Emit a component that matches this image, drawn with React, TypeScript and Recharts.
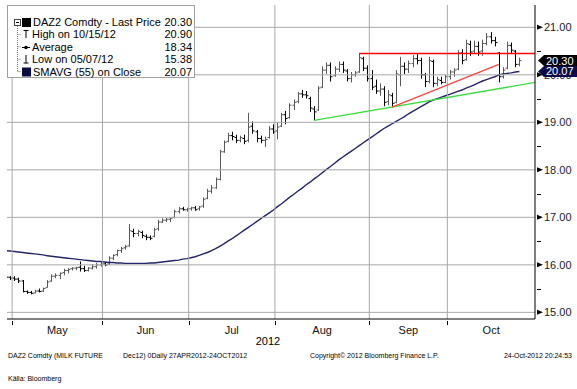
import React from 'react';
import { ComposedChart, Bar, Line, XAxis, YAxis, ReferenceLine } from 'recharts';

// DAZ2 Comdty daily bars, 27 Apr 2012 .. 24 Oct 2012 (trading-day index 0..125)
const opens = [
  15.78, 15.74, 15.72, 15.7, 15.66, 15.44, 15.42, 15.41, 15.45, 15.45,
  15.52, 15.66, 15.76, 15.78, 15.84, 15.88, 15.92, 15.93, 15.95, 15.92,
  15.88, 15.93, 15.96, 16.0, 16.02, 16.02, 16.14, 16.22, 16.3, 16.36,
  16.4, 16.7, 16.66, 16.68, 16.6, 16.58, 16.6, 16.76, 16.9, 16.94,
  16.96, 17.0, 17.12, 17.18, 17.16, 17.18, 17.2, 17.18, 17.24, 17.4,
  17.55, 17.62, 17.8, 18.38, 18.6, 18.72, 18.68, 18.62, 18.66, 18.62,
  18.92, 18.8, 18.66, 18.62, 18.68, 18.86, 18.82, 18.92, 19.16, 19.1,
  19.36, 19.44, 19.6, 19.58, 19.5, 19.28, 19.26, 19.74, 20.1, 20.2,
  19.98, 20.12, 20.22, 20.08, 19.92, 20.0, 20.06, 20.34, 20.14, 19.92,
  19.76, 19.66, 19.7, 19.44, 19.56, 19.42, 20.0, 20.18, 20.12, 20.24,
  20.34, 20.3, 20.0, 19.86, 20.28, 19.82, 19.88, 19.84, 19.96, 20.06,
  20.12, 20.46, 20.32, 20.64, 20.5, 20.6, 20.5, 20.66, 20.8, 20.72,
  20.46, 19.96, 20.14, 20.62, 20.5, 20.22,
];
const highs = [
  15.8, 15.76, 15.76, 15.73, 15.68, 15.46, 15.45, 15.47, 15.5, 15.52,
  15.68, 15.8, 15.82, 15.84, 15.92, 15.93, 15.95, 15.96, 16.07, 15.98,
  15.95, 16.02, 16.04, 16.08, 16.06, 16.18, 16.22, 16.32, 16.38, 16.42,
  16.86, 16.76, 16.74, 16.72, 16.64, 16.62, 16.78, 16.95, 16.98, 16.98,
  17.0, 17.16, 17.22, 17.22, 17.2, 17.22, 17.24, 17.24, 17.42, 17.6,
  17.68, 17.84, 18.42, 18.62, 18.78, 18.8, 18.74, 18.72, 18.74, 19.2,
  19.02, 18.84, 18.72, 18.7, 18.92, 18.96, 19.0, 19.2, 19.24, 19.4,
  19.48, 19.64, 19.68, 19.66, 19.54, 19.34, 19.76, 20.18, 20.26, 20.26,
  20.18, 20.28, 20.28, 20.12, 20.06, 20.08, 20.46, 20.38, 20.2, 20.1,
  19.9, 19.82, 19.76, 19.68, 19.62, 20.1, 20.38, 20.26, 20.3, 20.42,
  20.44, 20.36, 20.04, 20.38, 20.32, 19.96, 19.96, 20.0, 20.1, 20.14,
  20.52, 20.54, 20.74, 20.72, 20.72, 20.7, 20.74, 20.88, 20.9, 20.8,
  20.48, 20.16, 20.7, 20.68, 20.52, 20.36,
];
const lows = [
  15.7, 15.68, 15.66, 15.62, 15.42, 15.39, 15.38, 15.4, 15.42, 15.43,
  15.52, 15.64, 15.72, 15.7, 15.78, 15.82, 15.88, 15.89, 15.86, 15.85,
  15.86, 15.9, 15.92, 15.96, 15.97, 16.0, 16.1, 16.18, 16.25, 16.32,
  16.38, 16.58, 16.6, 16.56, 16.52, 16.52, 16.58, 16.72, 16.88, 16.9,
  16.9, 16.98, 17.08, 17.14, 17.12, 17.14, 17.14, 17.14, 17.2, 17.38,
  17.5, 17.6, 17.78, 18.36, 18.58, 18.62, 18.56, 18.58, 18.54, 18.58,
  18.76, 18.58, 18.56, 18.48, 18.66, 18.76, 18.64, 18.9, 18.96, 19.08,
  19.26, 19.4, 19.52, 19.5, 19.22, 19.04, 19.24, 19.72, 20.02, 19.86,
  19.96, 20.06, 20.04, 19.86, 19.84, 19.96, 20.04, 20.08, 19.86, 19.68,
  19.6, 19.56, 19.34, 19.36, 19.32, 19.4, 19.76, 20.02, 20.04, 20.16,
  20.22, 19.92, 19.74, 19.82, 19.74, 19.76, 19.8, 19.82, 19.9, 19.96,
  20.1, 20.22, 20.3, 20.4, 20.44, 20.4, 20.4, 20.62, 20.66, 20.6,
  19.84, 19.92, 20.12, 20.46, 20.16, 20.18,
];
const closes = [
  15.74, 15.72, 15.7, 15.66, 15.44, 15.42, 15.4, 15.45, 15.44, 15.5,
  15.64, 15.76, 15.78, 15.82, 15.88, 15.9, 15.93, 15.94, 15.92, 15.88,
  15.93, 15.96, 16.0, 16.02, 16.0, 16.14, 16.2, 16.3, 16.34, 16.38,
  16.72, 16.66, 16.7, 16.62, 16.58, 16.56, 16.74, 16.9, 16.94, 16.96,
  16.98, 17.12, 17.18, 17.16, 17.18, 17.2, 17.16, 17.22, 17.38, 17.55,
  17.62, 17.8, 18.38, 18.58, 18.72, 18.7, 18.62, 18.68, 18.6, 18.9,
  18.82, 18.66, 18.62, 18.64, 18.86, 18.8, 18.9, 19.16, 19.08, 19.36,
  19.42, 19.6, 19.58, 19.56, 19.3, 19.22, 19.72, 20.1, 20.2, 19.96,
  20.12, 20.22, 20.1, 19.92, 20.0, 20.04, 20.36, 20.14, 19.92, 19.74,
  19.66, 19.7, 19.42, 19.58, 19.4, 20.02, 20.18, 20.12, 20.24, 20.34,
  20.3, 20.0, 19.86, 20.3, 19.82, 19.9, 19.84, 19.96, 20.06, 20.1,
  20.46, 20.3, 20.66, 20.48, 20.6, 20.48, 20.66, 20.8, 20.72, 20.68,
  19.96, 20.1, 20.62, 20.52, 20.22, 20.3,
];
// SMAVG (55) on Close
const sma = [
  16.3, 16.29, 16.28, 16.27, 16.26, 16.25, 16.24, 16.23, 16.22, 16.21,
  16.19, 16.18, 16.17, 16.16, 16.15, 16.14, 16.13, 16.12, 16.11, 16.1,
  16.09, 16.08, 16.07, 16.07, 16.06, 16.05, 16.05, 16.04, 16.04, 16.03,
  16.03, 16.03, 16.03, 16.03, 16.03, 16.04, 16.04, 16.05, 16.06, 16.07,
  16.08, 16.09, 16.1, 16.12, 16.13, 16.15, 16.17, 16.2, 16.23, 16.26,
  16.3, 16.34, 16.39, 16.44, 16.5, 16.55, 16.61, 16.67, 16.73, 16.79,
  16.85, 16.91, 16.97, 17.03, 17.09, 17.15, 17.22, 17.28, 17.35, 17.42,
  17.48, 17.55, 17.61, 17.68, 17.74, 17.81, 17.87, 17.94, 18.01, 18.07,
  18.14, 18.21, 18.27, 18.33, 18.39, 18.45, 18.51, 18.57, 18.63, 18.69,
  18.75, 18.81, 18.87, 18.92, 18.97, 19.02, 19.07, 19.12, 19.18, 19.23,
  19.28, 19.33, 19.38, 19.43, 19.47, 19.5, 19.53, 19.56, 19.59, 19.62,
  19.65, 19.68, 19.72, 19.75, 19.79, 19.83, 19.87, 19.9, 19.93, 19.96,
  20.0, 20.02, 20.03, 20.04, 20.06, 20.07,
];

const monthNames = ['May', 'Jun', 'Jul', 'Aug', 'Sep', 'Oct'];
const monthFirstDay = [2, 24, 45, 66, 89, 108];
const priceTicks = [15, 16, 17, 18, 19, 20, 21];
const minorTicks = [15.5, 16.5, 17.5, 18.5, 19.5, 20.5];
const tagValues = [20.3, 20.07];
const tagColors = ['#000000', '#0b0b48'];

// hand-drawn trend lines: [day, price]
const resistance = [[86, 20.45], [128.8, 20.45]];
const redTrend = [[94, 19.32], [120, 20.22]];
const greenTrend = [[75, 19.04], [128.8, 19.84]];

const legendLabels = ['DAZ2 Comdty - Last Price', 'High on 10/15/12', 'Average', 'Low on 05/07/12', 'SMAVG (55) on Close'];
const legendValues = ['20.30', '20.90', '18.34', '15.38', '20.07'];

const X_DOMAIN: [number, number] = [0.2, 128.8];
const Y_DOMAIN: [number, number] = [14.86, 21.47];
const FONT = "'Liberation Sans', Arial, sans-serif";
const MARGIN = { top: 5, right: 0, bottom: 52, left: 7 };
const W = 577;
const H = 389;
const Y_AXIS_W = 42;
const X_AXIS_H = 18;

const rows = closes.map((c, i) => ({ day: i, open: opens[i], high: highs[i], low: lows[i], close: c, sma: sma[i] }));
const monthEdges = monthFirstDay.map((d) => d - 0.55);
const monthMids = monthEdges.map((e, i) => (e + (monthEdges[i + 1] ?? X_DOMAIN[1])) / 2);

function OhlcBar(props: any) {
  const { x, y, width, height, payload } = props;
  if (!payload || x == null) return null;
  const top = Math.min(y, y + height);
  const bot = Math.max(y, y + height);
  const span = payload.high - payload.low || 1;
  const py = (v: number) => top + ((payload.high - v) / span) * (bot - top);
  const cx = Math.round(x + width / 2) + 0.5;
  const color = payload.close > payload.open ? '#5a5a5a' : '#000';
  return (
    <g stroke={color} strokeWidth={1}>
      <line x1={cx} x2={cx} y1={top} y2={bot} />
      <line x1={cx - 2} x2={cx} y1={py(payload.open)} y2={py(payload.open)} />
      <line x1={cx} x2={cx + 2} y1={py(payload.close)} y2={py(payload.close)} />
    </g>
  );
}

function MonthTick({ x, y, payload }: any) {
  const k = monthMids.indexOf(payload.value);
  if (k >= 0) {
    return (
      <text x={x} y={y + 13} textAnchor="middle" fontSize={11} fill="#111">
        {monthNames[k]}
      </text>
    );
  }
  const gx = Math.round(x) + 0.5;
  return <path d={`M${gx} ${y} V${y + 4}`} stroke="#000" strokeWidth={1} />;
}

function PriceTick({ x, y, payload }: any) {
  const v = payload.value;
  const t = tagValues.indexOf(v);
  if (t >= 0) {
    return (
      <g>
        <path d={`M${x + 1} ${y} L${x + 7} ${y - 5.5} L${x + 42} ${y - 5.5} L${x + 42} ${y + 5.5} L${x + 7} ${y + 5.5} Z`} fill={tagColors[t]} />
        <text x={x + 9} y={y} dy="0.36em" fontSize={11} fill="#fff">
          {v.toFixed(2)}
        </text>
      </g>
    );
  }
  if (minorTicks.includes(v)) return <path d={`M${x} ${Math.round(y) + 0.5} h4`} stroke="#000" strokeWidth={1} />;
  return (
    <g>
      <path d={`M${x} ${y - 2.5} L${x + 6} ${y} L${x} ${y + 2.5} Z`} fill="#000" />
      <text x={x + 7} y={y} dy="0.36em" fontSize={11} fill="#1a1a2a">
        {v.toFixed(2)}
      </text>
    </g>
  );
}

const seg = (p: number[][]) => p.map(([x, y]) => ({ x, y }));

function Legend() {
  const rowTop = (i: number) => 10 + i * 12.4;
  return (
    <div style={{ position: 'absolute', left: 7, top: 5, width: 188, height: 73, background: '#fff', border: '1px solid #a0a0a0', boxSizing: 'border-box', fontSize: 11, color: '#000' }}>
      <svg width={186} height={71} style={{ position: 'absolute', left: 0, top: 0 }}>
        <g stroke="#777" strokeDasharray="1 1">
          <line x1={9.5} x2={9.5} y1={20} y2={66} />
          {[1, 2, 3, 4].map((i) => (
            <line key={i} x1={9.5} x2={13} y1={rowTop(i) + 6} y2={rowTop(i) + 6} />
          ))}
        </g>
        <rect x={6.5} y={13.5} width={6} height={6} fill="#fff" stroke="#444" />
        <line x1={8} x2={11} y1={16.5} y2={16.5} stroke="#000" />
        <rect x={14} y={12} width={9} height={9} fill="#000" />
        <g stroke="#000">
          <line x1={15.5} x2={20.5} y1={24.5} y2={24.5} />
          <line x1={18} x2={18} y1={24.5} y2={32} />
          <line x1={14} x2={22} y1={41.5} y2={41.5} />
          <line x1={18} x2={18} y1={49} y2={57} />
          <line x1={15.5} x2={20.5} y1={57} y2={57} />
        </g>
        <circle cx={18} cy={41.5} r={1.8} fill="#000" />
        <rect x={14} y={61.5} width={9} height={9} fill="#0b0b48" />
      </svg>
      {legendLabels.map((t, i) => (
        <div key={t} style={{ position: 'absolute', left: i === 0 || i === 4 ? 25 : 24, top: rowTop(i), lineHeight: '12.4px', whiteSpace: 'nowrap' }}>
          {t}
        </div>
      ))}
      {legendValues.map((t, i) => (
        <div key={i} style={{ position: 'absolute', right: 2, top: rowTop(i), lineHeight: '12.4px' }}>
          {t}
        </div>
      ))}
    </div>
  );
}

export default function App() {
  const small = { position: 'absolute' as const, fontSize: 7, lineHeight: '9px', whiteSpace: 'nowrap' as const, color: '#000' };
  return (
    <div style={{ position: 'absolute', left: 0, top: 0, width: W, height: H, background: '#fff', fontFamily: FONT }}>
      <ComposedChart width={W} height={H} data={rows} margin={MARGIN}>
        <XAxis
          dataKey="day" type="number" domain={X_DOMAIN} allowDataOverflow
          ticks={[...monthEdges, ...monthMids]} interval={0}
          tick={<MonthTick />} tickLine={false} tickSize={0} axisLine={{ stroke: '#000' }} height={X_AXIS_H}
        />
        <YAxis
          orientation="right" type="number" domain={Y_DOMAIN} allowDataOverflow
          ticks={[...minorTicks, ...priceTicks, ...tagValues]} interval={0}
          tick={<PriceTick />} tickLine={false} tickSize={0} axisLine={{ stroke: '#000' }} width={Y_AXIS_W}
        />
        <Bar dataKey={(d: any) => [d.low, d.high]} barSize={4} shape={(p: any) => <OhlcBar {...p} />} isAnimationActive={false} />
        <Line dataKey="sma" type="linear" stroke="#24246c" strokeWidth={1.4} dot={false} activeDot={false} isAnimationActive={false} />
        <ReferenceLine segment={seg([[X_DOMAIN[0], 15], [X_DOMAIN[1], 15]])} stroke="#a8a8a8" strokeWidth={1} ifOverflow="visible" />
        <ReferenceLine segment={seg([[X_DOMAIN[0], 16], [X_DOMAIN[1], 16]])} stroke="#a8a8a8" strokeWidth={1} ifOverflow="visible" />
        <ReferenceLine segment={seg([[X_DOMAIN[0], 17], [X_DOMAIN[1], 17]])} stroke="#a8a8a8" strokeWidth={1} ifOverflow="visible" />
        <ReferenceLine segment={seg([[X_DOMAIN[0], 18], [X_DOMAIN[1], 18]])} stroke="#a8a8a8" strokeWidth={1} ifOverflow="visible" />
        <ReferenceLine segment={seg([[X_DOMAIN[0], 19], [X_DOMAIN[1], 19]])} stroke="#a8a8a8" strokeWidth={1} ifOverflow="visible" />
        <ReferenceLine segment={seg([[X_DOMAIN[0], 20], [X_DOMAIN[1], 20]])} stroke="#a8a8a8" strokeWidth={1} ifOverflow="visible" />
        <ReferenceLine segment={seg([[X_DOMAIN[0], 21], [X_DOMAIN[1], 21]])} stroke="#a8a8a8" strokeWidth={1} ifOverflow="visible" />
        <ReferenceLine segment={seg([[monthEdges[0], Y_DOMAIN[0]], [monthEdges[0], Y_DOMAIN[1]]])} stroke="#a8a8a8" strokeWidth={1} ifOverflow="visible" />
        <ReferenceLine segment={seg([[monthEdges[1], Y_DOMAIN[0]], [monthEdges[1], Y_DOMAIN[1]]])} stroke="#a8a8a8" strokeWidth={1} ifOverflow="visible" />
        <ReferenceLine segment={seg([[monthEdges[2], Y_DOMAIN[0]], [monthEdges[2], Y_DOMAIN[1]]])} stroke="#a8a8a8" strokeWidth={1} ifOverflow="visible" />
        <ReferenceLine segment={seg([[monthEdges[3], Y_DOMAIN[0]], [monthEdges[3], Y_DOMAIN[1]]])} stroke="#a8a8a8" strokeWidth={1} ifOverflow="visible" />
        <ReferenceLine segment={seg([[monthEdges[4], Y_DOMAIN[0]], [monthEdges[4], Y_DOMAIN[1]]])} stroke="#a8a8a8" strokeWidth={1} ifOverflow="visible" />
        <ReferenceLine segment={seg([[monthEdges[5], Y_DOMAIN[0]], [monthEdges[5], Y_DOMAIN[1]]])} stroke="#a8a8a8" strokeWidth={1} ifOverflow="visible" />
        <ReferenceLine segment={seg(greenTrend)} stroke="#3ddc3d" strokeWidth={1.3} ifOverflow="visible" />
        <ReferenceLine segment={seg(redTrend)} stroke="#ff4040" strokeWidth={1.1} ifOverflow="visible" />
        <ReferenceLine segment={seg(resistance)} stroke="#ff0000" strokeWidth={1.6} ifOverflow="visible" />
      </ComposedChart>
      <Legend />
      <div style={{ position: 'absolute', left: 248, top: 335, width: 40, textAlign: 'center', fontSize: 11 }}>2012</div>
      <div style={{ ...small, left: 8, top: 351 }}>DAZ2 Comdty (MILK FUTURE</div>
      <div style={{ ...small, left: 123, top: 351 }}>Dec12) 0Daily 27APR2012-24OCT2012</div>
      <div style={{ ...small, left: 310, top: 351 }}>Copyright© 2012 Bloomberg Finance L.P.</div>
      <div style={{ ...small, right: 5, top: 351 }}>24-Oct-2012 20:24:53</div>
      <div style={{ ...small, left: 8, top: 374 }}>Källa: Bloomberg</div>
    </div>
  );
}
